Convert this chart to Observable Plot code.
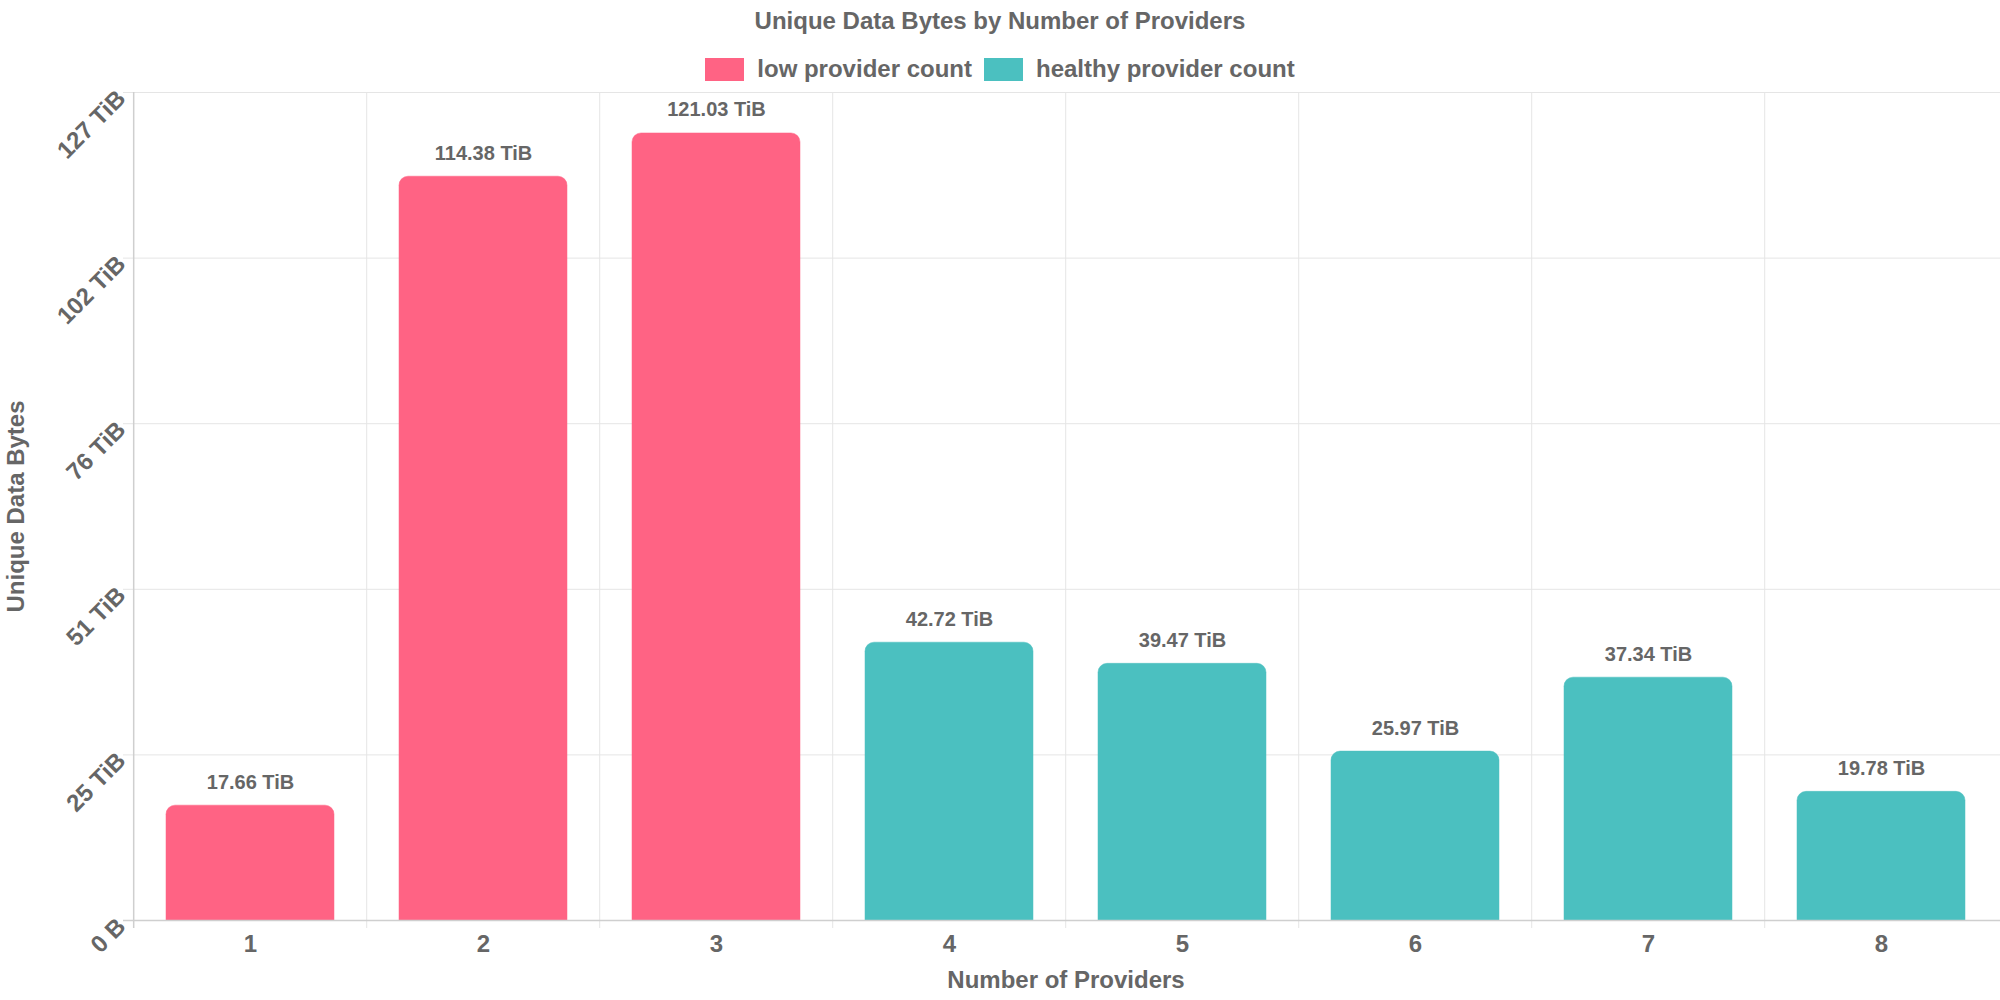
<!DOCTYPE html>
<html>
<head>
<meta charset="utf-8">
<script src="https://cdn.jsdelivr.net/npm/d3@7"></script>
<script src="https://cdn.jsdelivr.net/npm/@observablehq/plot@0.6"></script>
<style>
  html, body { margin: 0; padding: 0; background: #fff; }
  body { width: 2000px; height: 1000px; position: relative; font-family: "Liberation Sans", Arial, sans-serif; color: #666; }
  #title { position: absolute; top: 5px; left: 0; width: 2000px; text-align: center; font-size: 24px; font-weight: bold; line-height: 32px; z-index: 2; }
  #legend { position: absolute; top: 55px; left: 0; width: 2000px; display: flex; justify-content: center; align-items: center; font-size: 24px; font-weight: bold; line-height: 28px; z-index: 2; }
  .sw { width: 39px; height: 23px; display: inline-block; margin-right: 13px; box-sizing: border-box; }
  .item { display: flex; align-items: center; margin: 0 6px; }
  #chart { position: absolute; top: 80px; left: 0; z-index: 1; }
</style>
</head>
<body>
<div id="title">Unique Data Bytes by Number of Providers</div>
<div id="legend"></div>
<div id="chart"></div>
<script>
// Data (values in TiB)
const providers = ["1", "2", "3", "4", "5", "6", "7", "8"];
const bytesTiB = [17.66, 114.38, 121.03, 42.72, 39.47, 25.97, 37.34, 19.78];
const groups = ["low provider count", "low provider count", "low provider count",
  "healthy provider count", "healthy provider count", "healthy provider count",
  "healthy provider count", "healthy provider count"];
const seriesNames = ["low provider count", "healthy provider count"];
const seriesColors = ["#ff6384", "#4bc0c0"];
// y ticks: multiples of 28e12 bytes expressed in TiB
const yTickValues = [0, 25.466, 50.932, 76.398, 101.863, 127.329];
const yTickLabels = ["0 B", "25 TiB", "51 TiB", "76 TiB", "102 TiB", "127 TiB"];
const yMax = 127.329;

const data = providers.map((p, i) => ({p, v: bytesTiB[i], g: groups[i], label: bytesTiB[i].toFixed(2) + " TiB"}));

// legend
const legend = document.getElementById("legend");
seriesNames.forEach((n, i) => {
  const it = document.createElement("div");
  it.className = "item";
  const sw = document.createElement("span");
  sw.className = "sw";
  sw.style.background = seriesColors[i];
  sw.style.border = "1px solid " + seriesColors[i];
  it.appendChild(sw);
  const t = document.createElement("span");
  t.textContent = n;
  it.appendChild(t);
  legend.appendChild(it);
});

const W = 2000, H = 920, mL = 131, mR = 0, mT = 12, mB = 80;
const step = (W - mL - mR) / providers.length;

const plot = Plot.plot({
  width: W,
  height: H,
  marginLeft: mL,
  marginRight: mR,
  marginTop: mT,
  marginBottom: mB,
  style: {fontFamily: "Liberation Sans, Arial, sans-serif", color: "#666", background: "transparent"},
  x: {domain: providers, paddingInner: 0.28, paddingOuter: 0.14, axis: null},
  y: {domain: [0, yMax], axis: null},
  color: {domain: seriesNames, range: seriesColors},
  marks: [
    // horizontal grid
    Plot.ruleY(yTickValues.slice(1), {stroke: "#e5e5e5", strokeWidth: 1, insetLeft: -8}),
    // vertical grid at category boundaries
    Plot.ruleX(providers.slice(1), {x: d => d, dx: -step / 2, stroke: "#e5e5e5", strokeWidth: 1, insetBottom: -8}),
    Plot.barY(data, {x: "p", y: "v", fill: "g", stroke: "g", strokeOpacity: 0.5, rx1y1: 9, rx2y1: 9}),
    // axis lines
    Plot.ruleY([0], {stroke: "#cfcfcf", strokeWidth: 1.5, insetLeft: -8}),
    Plot.ruleX([providers[0]], {x: d => d, dx: -step / 2, stroke: "#cfcfcf", strokeWidth: 1.5, insetBottom: -8}),
    // value labels
    Plot.text(data, {x: "p", y: "v", text: "label", dy: -17, lineAnchor: "bottom", fill: "#666", fontSize: 20, fontWeight: "bold"}),
    // y tick labels
    Plot.text(yTickValues, {y: d => d, text: (d, i) => yTickLabels[i], frameAnchor: "left", dx: -10, dy: 2, rotate: -45, textAnchor: "end", lineAnchor: "middle", fill: "#666", fontSize: 24, fontWeight: "bold"}),
    // x tick labels
    Plot.text(providers, {x: d => d, text: d => d, frameAnchor: "bottom", dy: 24, lineAnchor: "middle", fill: "#666", fontSize: 24, fontWeight: "bold"}),
    // axis titles
    Plot.text(["Unique Data Bytes"], {frameAnchor: "left", dx: -115, rotate: -90, textAnchor: "middle", lineAnchor: "middle", fill: "#666", fontSize: 24, fontWeight: "bold"}),
    Plot.text(["Number of Providers"], {frameAnchor: "bottom", dy: 60, textAnchor: "middle", lineAnchor: "middle", fill: "#666", fontSize: 24, fontWeight: "bold"})
  ]
});
document.getElementById("chart").appendChild(plot);
</script>
</body>
</html>
